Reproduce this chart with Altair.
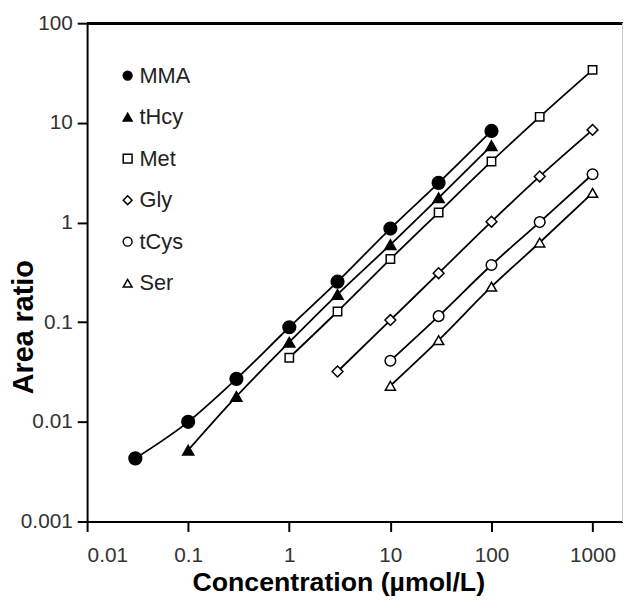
import altair as alt
import pandas as pd

series = ["MMA", "tHcy", "Met", "Gly", "tCys", "Ser"]
shapes = ["circle", "triangle-up", "square", "diamond", "circle", "triangle-up"]
fills = ["black", "black", "white", "white", "white", "white"]
strokes = ["black"] * 6
marker_sizes = [165, 125, 72, 120, 115, 105]

mma_x = [0.03, 0.1, 0.3, 1, 3, 10, 30, 100]
mma_y = [0.0043, 0.010, 0.027, 0.089, 0.255, 0.87, 2.5, 8.3]
thcy_x = [0.1, 0.3, 1, 3, 10, 30, 100]
thcy_y = [0.0052, 0.018, 0.063, 0.19, 0.60, 1.77, 5.9]
met_x = [1, 3, 10, 30, 100, 300, 1000]
met_y = [0.044, 0.128, 0.43, 1.26, 4.1, 11.5, 34]
gly_x = [3, 10, 30, 100, 300, 1000]
gly_y = [0.032, 0.105, 0.31, 1.02, 2.9, 8.5]
tcys_x = [10, 30, 100, 300, 1000]
tcys_y = [0.041, 0.115, 0.375, 1.01, 3.05]
ser_x = [10, 30, 100, 300, 1000]
ser_y = [0.023, 0.066, 0.227, 0.63, 1.98]

x_ticks = [0.01, 0.1, 1, 10, 100, 1000]
y_ticks = [0.001, 0.01, 0.1, 1, 10, 100]

rows = []
for name, xs, ys in [("MMA", mma_x, mma_y), ("tHcy", thcy_x, thcy_y),
                     ("Met", met_x, met_y), ("Gly", gly_x, gly_y),
                     ("tCys", tcys_x, tcys_y), ("Ser", ser_x, ser_y)]:
    for xv, yv in zip(xs, ys):
        rows.append({"analyte": name, "conc": xv, "ratio": yv})
df = pd.DataFrame(rows)

W, H = 542, 504
FONT = "Liberation Sans"

x_enc = alt.X("conc:Q",
              scale=alt.Scale(type="log", domain=[0.01, 2000], nice=False),
              axis=alt.Axis(values=x_ticks, format="~g", grid=False,
                            labelPadding=13,
                            title="Concentration (µmol/L)", titleFontSize=27,
                            titleX=254, titleY=70, titleBaseline="alphabetic"))
y_enc = alt.Y("ratio:Q",
              scale=alt.Scale(type="log", domain=[0.001, 100], nice=False),
              axis=alt.Axis(values=y_ticks, format="~g", grid=False,
                            labelPadding=5,
                            title="Area ratio", titleFontSize=29,
                            titleX=-55, titleY=307, titleAngle=270,
                            titleAlign="center", titleBaseline="alphabetic"))

legend = alt.Legend(title=None, orient="none", legendX=30, legendY=42,
                    labelFontSize=22, labelFont=FONT, labelColor="#222",
                    symbolStrokeWidth=1.5, symbolSize=80, rowPadding=20,
                    labelOffset=1, padding=0)

shape_enc = alt.Shape("analyte:N", scale=alt.Scale(domain=series, range=shapes),
                      legend=legend)
fill_enc = alt.Fill("analyte:N", scale=alt.Scale(domain=series, range=fills),
                    legend=legend)
stroke_enc = alt.Stroke("analyte:N", scale=alt.Scale(domain=series, range=strokes),
                        legend=legend)

lines = alt.Chart(df).mark_line(color="black", strokeWidth=1.8,
                                interpolate="monotone").encode(
    x=x_enc, y=y_enc, detail="analyte:N")

point_layers = []
for name, msize in zip(series, marker_sizes):
    point_layers.append(
        alt.Chart(df).transform_filter(alt.datum.analyte == name)
        .mark_point(filled=True, strokeWidth=1.5, opacity=1, size=msize)
        .encode(x=x_enc, y=y_enc, shape=shape_enc, fill=fill_enc,
                stroke=stroke_enc)
    )

top_rule = alt.Chart(df).mark_rule(color="black", strokeWidth=2).encode(
    x=alt.value(0), x2=alt.value(W), y=alt.value(0))
right_rule = alt.Chart(df).mark_rule(color="#c8c8c8", strokeWidth=1).encode(
    x=alt.value(W - 0.5), y=alt.value(0), y2=alt.value(H))

chart = alt.layer(top_rule, right_rule, lines, *point_layers).properties(
    width=W, height=H,
    autosize=alt.AutoSizeParams(type="none"),
    padding={"left": 80, "top": 12, "right": 0, "bottom": 76},
).configure_view(stroke=None).configure_axis(
    domainColor="black", domainWidth=2, tickColor="black", tickWidth=2,
    tickSize=10, labelFont=FONT, labelFontSize=21, labelColor="#333",
    titleFont=FONT, titleFontWeight="bold", titleColor="black"
)

chart.save("out.html", embed_options={"renderer": "svg", "actions": False})
